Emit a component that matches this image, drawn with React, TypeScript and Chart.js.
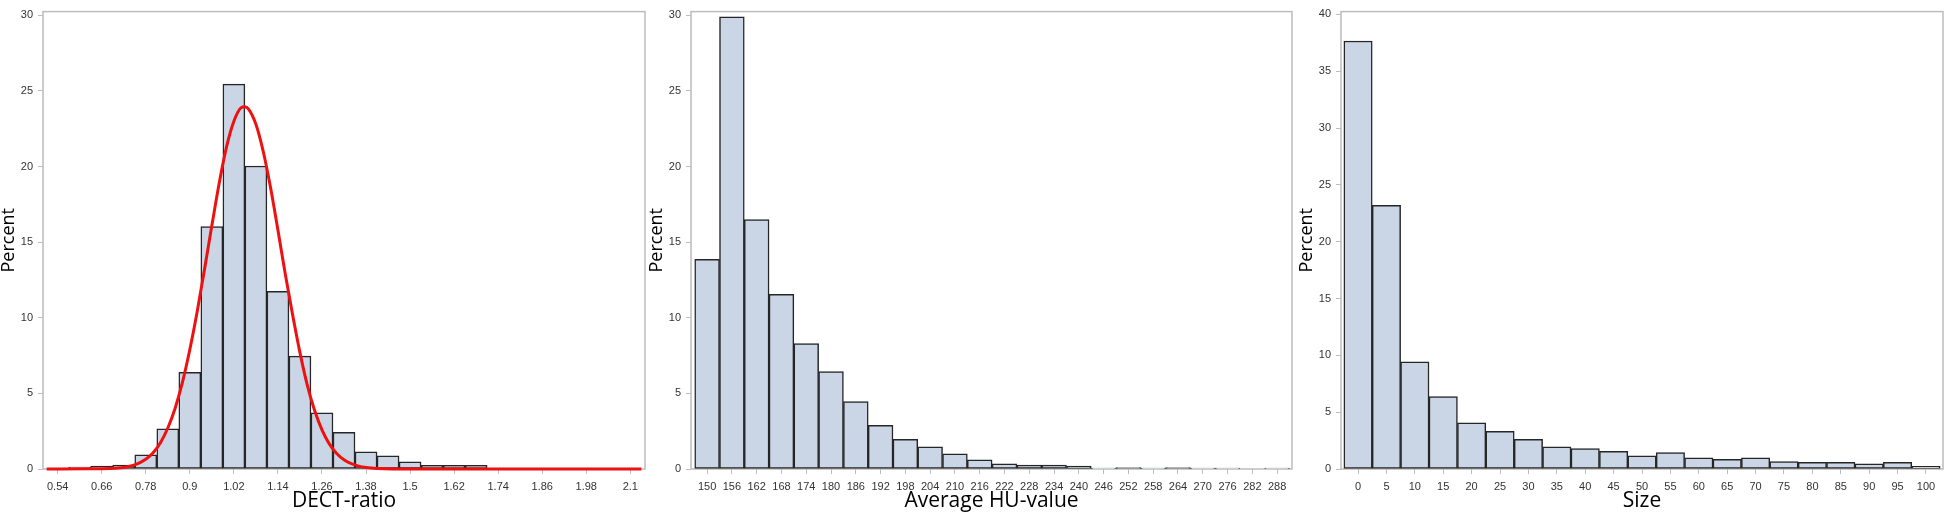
import React, { useEffect, useRef } from 'react';
import { Chart, registerables } from 'chart.js';

Chart.register(...registerables);

// ---------- Panel 1: DECT-ratio ----------
const dectBins = [0.6, 0.66, 0.72, 0.78, 0.84, 0.9, 0.96, 1.02, 1.08, 1.14, 1.2, 1.26, 1.32, 1.38, 1.44, 1.5, 1.56, 1.62, 1.68];
const dectPercent = [0.13, 0.19, 0.26, 0.93, 2.66, 6.4, 16.04, 25.45, 20.04, 11.75, 7.47, 3.72, 2.42, 1.13, 0.87, 0.48, 0.24, 0.24, 0.24];
const dectTicks = [0.54, 0.66, 0.78, 0.9, 1.02, 1.14, 1.26, 1.38, 1.5, 1.62, 1.74, 1.86, 1.98, 2.1];
const dectTickLabels = ['0.54', '0.66', '0.78', '0.9', '1.02', '1.14', '1.26', '1.38', '1.5', '1.62', '1.74', '1.86', '1.98', '2.1'];
// fitted normal curve
const dectCurveX = [0.51, 0.62, 0.68, 0.72, 0.75, 0.78, 0.8, 0.82, 0.84, 0.86, 0.88, 0.9, 0.92, 0.94, 0.96, 0.98, 1.0, 1.02, 1.04, 1.05, 1.06, 1.08, 1.1, 1.12, 1.14, 1.16, 1.18, 1.2, 1.22, 1.24, 1.26, 1.28, 1.3, 1.32, 1.34, 1.36, 1.38, 1.41, 1.45, 2.13];
const dectCurveY = [0, 0.01, 0.03, 0.1, 0.27, 0.64, 1.08, 1.74, 2.71, 4.02, 5.74, 7.9, 10.4, 13.2, 16.1, 18.9, 21.3, 23.0, 23.9, 23.96, 23.8, 22.8, 21.0, 18.6, 15.8, 12.9, 10.2, 7.7, 5.55, 3.87, 2.59, 1.66, 1.03, 0.61, 0.35, 0.19, 0.1, 0.03, 0, 0];

// ---------- Panel 2: Average HU-value ----------
const huBins = [150, 156, 162, 168, 174, 180, 186, 192, 198, 204, 210, 216, 222, 228, 234, 240, 246, 252, 258, 264, 270, 276, 282, 288];
const huPercent = [13.87, 29.9, 16.5, 11.56, 8.29, 6.45, 4.46, 2.88, 1.97, 1.47, 1.0, 0.61, 0.35, 0.26, 0.26, 0.2, 0.06, 0.1, 0.06, 0.1, 0.06, 0.06, 0, 0.06];
const huTickLabels = ['150', '156', '162', '168', '174', '180', '186', '192', '198', '204', '210', '216', '222', '228', '234', '240', '246', '252', '258', '264', '270', '276', '282', '288'];

// ---------- Panel 3: Size ----------
const sizeBins = [0, 5, 10, 15, 20, 25, 30, 35, 40, 45, 50, 55, 60, 65, 70, 75, 80, 85, 90, 95, 100];
const sizePercent = [37.66, 23.2, 9.43, 6.37, 4.07, 3.32, 2.62, 1.96, 1.79, 1.56, 1.15, 1.44, 0.98, 0.84, 0.98, 0.66, 0.58, 0.58, 0.46, 0.58, 0.23];
const sizeTickLabels = ['0', '5', '10', '15', '20', '25', '30', '35', '40', '45', '50', '55', '60', '65', '70', '75', '80', '85', '90', '95', '100'];

const yTicks30 = [0, 5, 10, 15, 20, 25, 30];
const yTicks40 = [0, 5, 10, 15, 20, 25, 30, 35, 40];

const BAR_FILL = '#cad5e5';
const BAR_EDGE = '#262626';
const FRAME = '#bcbcbc';
const TICK_FONT = { family: '"Liberation Sans", Arial, sans-serif', size: 11 };
const TITLE_FAMILY = '"Open Sans", "Noto Sans", sans-serif';

const framePlugin = {
  id: 'frame',
  beforeDatasetsDraw(chart: any) {
    const { ctx, chartArea } = chart;
    const { left, top, right, bottom } = chartArea;
    ctx.save();
    ctx.strokeStyle = FRAME;
    ctx.lineWidth = 1.5;
    ctx.strokeRect(left, top, right - left, bottom - top);
    ctx.restore();
  },
};

function makeOptions(p: any) {
  return {
    responsive: false,
    animation: false,
    events: [],
    layout: { padding: { left: 0, right: p.padRight, top: 3, bottom: 0 } },
    plugins: { legend: { display: false }, tooltip: { enabled: false } },
    scales: {
      x: {
        type: 'linear',
        min: p.xMin,
        max: p.xMax,
        offset: false,
        afterBuildTicks: (s: any) => {
          s.ticks = p.xTicks.map((v: number) => ({ value: v }));
        },
        afterFit: (s: any) => {
          s.height = 47;
        },
        ticks: {
          callback: (_v: any, i: number) => p.xLabels[i],
          font: TICK_FONT,
          color: '#333',
          padding: 6,
          maxRotation: 0,
          minRotation: 0,
          autoSkip: false,
        },
        grid: { display: true, drawOnChartArea: false, drawTicks: true, tickLength: 5, color: FRAME, offset: false },
        border: { display: false },
        title: {
          display: true,
          text: p.xTitle,
          color: '#000',
          font: { family: TITLE_FAMILY, size: 21, lineHeight: 1 },
          padding: { top: 0, bottom: 4 },
        },
      },
      y: {
        type: 'linear',
        min: 0,
        max: p.yMax,
        afterBuildTicks: (s: any) => {
          s.ticks = p.yTicks.map((v: number) => ({ value: v }));
        },
        afterFit: (s: any) => {
          s.width = 43;
        },
        ticks: {
          font: TICK_FONT,
          color: '#333',
          padding: 5,
          autoSkip: false,
        },
        grid: { display: true, drawOnChartArea: false, drawTicks: true, tickLength: 5, color: FRAME },
        border: { display: false },
        title: {
          display: true,
          text: 'Percent',
          color: '#000',
          font: { family: TITLE_FAMILY, size: 18, lineHeight: 1 },
          padding: { top: 0, bottom: 0 },
        },
      },
    },
  };
}

function barDataset(bins: number[], values: number[]) {
  return {
    type: 'bar',
    order: 1,
    data: bins.map((b, i) => ({ x: b, y: values[i] === 0 ? null : values[i] })),
    backgroundColor: BAR_FILL,
    borderColor: BAR_EDGE,
    borderWidth: 1.5,
    borderSkipped: false,
    barPercentage: 1,
    categoryPercentage: 1,
  };
}

function Panel(props: { left: number; width: number; config: any }) {
  const ref = useRef<HTMLCanvasElement | null>(null);
  useEffect(() => {
    if (!ref.current) return;
    const chart = new Chart(ref.current, props.config);
    return () => chart.destroy();
  }, []);
  return (
    <canvas
      ref={ref}
      width={props.width}
      height={516}
      style={{ position: 'absolute', left: props.left, top: 0, width: props.width, height: 516 }}
    />
  );
}

export default function App() {
  const cfg1 = {
    type: 'bar',
    data: {
      datasets: [
        {
          type: 'line',
          order: 0,
          data: dectCurveX.map((x, i) => ({ x, y: dectCurveY[i] })),
          borderColor: '#ee1111',
          borderWidth: 3,
          pointRadius: 0,
          fill: false,
          cubicInterpolationMode: 'monotone',
          clip: false,
        },
        barDataset(dectBins, dectPercent),
      ],
    },
    options: makeOptions({
      padRight: 3,
      xMin: 0.5,
      xMax: 2.14,
      xTicks: dectTicks,
      xLabels: dectTickLabels,
      xTitle: 'DECT-ratio',
      yMax: 30.25,
      yTicks: yTicks30,
    }),
    plugins: [framePlugin],
  };
  const cfg2 = {
    type: 'bar',
    data: { datasets: [barDataset(huBins, huPercent)] },
    options: makeOptions({
      padRight: 5,
      xMin: 146.1,
      xMax: 291.6,
      xTicks: huBins,
      xLabels: huTickLabels,
      xTitle: 'Average HU-value',
      yMax: 30.25,
      yTicks: yTicks30,
    }),
    plugins: [framePlugin],
  };
  const cfg3 = {
    type: 'bar',
    data: { datasets: [barDataset(sizeBins, sizePercent)] },
    options: makeOptions({
      padRight: 3,
      xMin: -3,
      xMax: 103,
      xTicks: sizeBins,
      xLabels: sizeTickLabels,
      xTitle: 'Size',
      yMax: 40.25,
      yTicks: yTicks40,
    }),
    plugins: [framePlugin],
  };
  return (
    <div style={{ position: 'absolute', left: 0, top: 0, width: 1946, height: 516, background: '#fff', overflow: 'hidden' }}>
      <Panel left={0} width={648} config={cfg1} />
      <Panel left={648} width={649} config={cfg2} />
      <Panel left={1298} width={648} config={cfg3} />
    </div>
  );
}
